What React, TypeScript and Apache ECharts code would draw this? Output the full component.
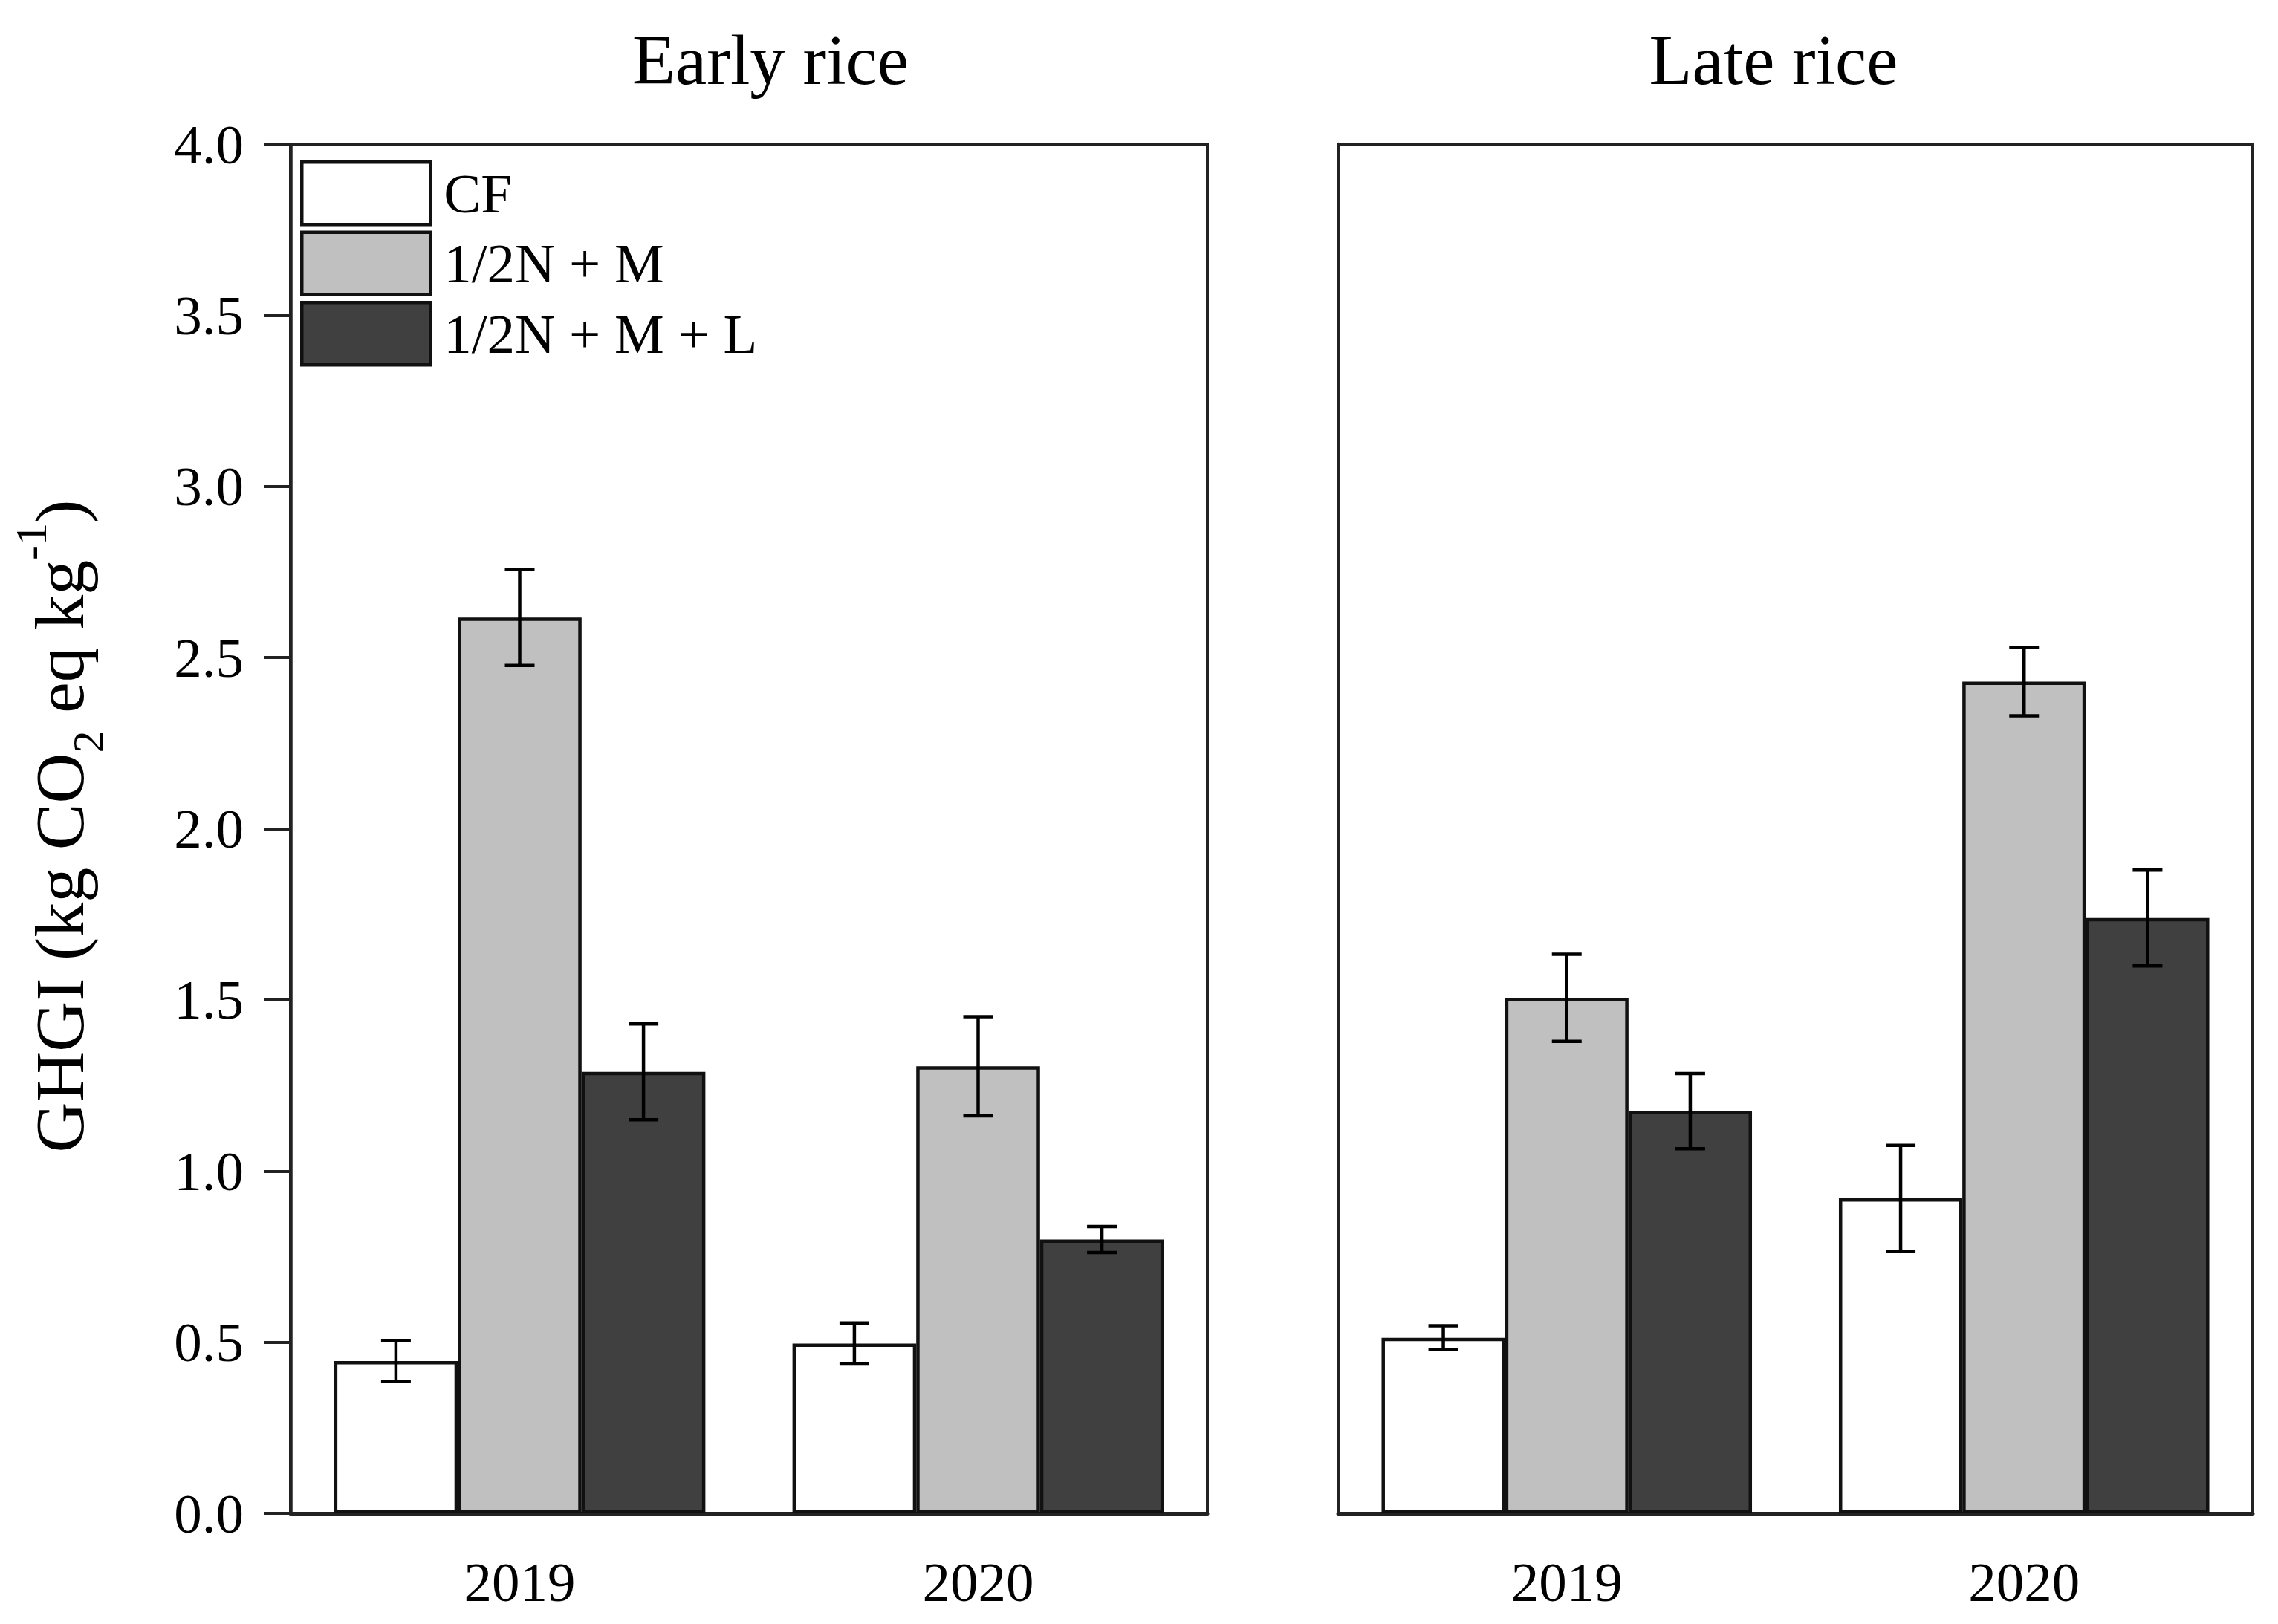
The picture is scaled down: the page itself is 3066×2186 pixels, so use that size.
import React, { useEffect, useRef } from "react";
import * as echarts from "echarts";

const categories = ["2019", "2020"];
const seriesNames = ["CF", "1/2N + M", "1/2N + M + L"];
const seriesColors = ["#ffffff", "#c0c0c0", "#404040"];

const earlyCF = [0.445, 0.496];
const earlyCFErr = [0.06, 0.06];
const earlyNM = [2.617, 1.306];
const earlyNMErr = [0.14, 0.145];
const earlyNML = [1.29, 0.8];
const earlyNMLErr = [0.14, 0.038];

const lateCF = [0.513, 0.92];
const lateCFErr = [0.035, 0.155];
const lateNM = [1.506, 2.43];
const lateNMErr = [0.127, 0.1];
const lateNML = [1.175, 1.739];
const lateNMLErr = [0.11, 0.14];

const yTicksMin = 0;
const yTicksMax = 4;
const yTicksInterval = 0.5;

const FONT = "Liberation Serif";
const BAR_GAP_CAT = 0.19;

export default function App() {
  const ref = useRef<HTMLDivElement>(null);

  useEffect(() => {
    document.body.style.margin = "0";
    const chart = echarts.init(ref.current!, null, { renderer: "svg" });

    const panels = [
      { vals: [earlyCF, earlyNM, earlyNML], errs: [earlyCFErr, earlyNMErr, earlyNMLErr] },
      { vals: [lateCF, lateNM, lateNML], errs: [lateCFErr, lateNMErr, lateNMLErr] },
    ];

    const series: any[] = [];
    panels.forEach((p, gi) => {
      p.vals.forEach((v, si) => {
        series.push({
          type: "bar",
          name: seriesNames[si],
          xAxisIndex: gi,
          yAxisIndex: gi,
          data: v,
          barGap: "0%",
          barCategoryGap: BAR_GAP_CAT * 100 + "%",
          itemStyle: { color: seriesColors[si], borderColor: "#111", borderWidth: 4.5 },
          z: 2,
        });
      });
      p.vals.forEach((v, si) => {
        series.push({
          type: "custom",
          name: "err" + gi + si,
          xAxisIndex: gi,
          yAxisIndex: gi,
          z: 5,
          encode: { x: 0, y: 1 },
          data: v.map((val, ci) => [ci, val, p.errs[si][ci]]),
          renderItem: (params: any, api: any) => {
            const c = api.value(0);
            const val = api.value(1);
            const e = api.value(2);
            const top = api.coord([c, val + e]);
            const bot = api.coord([c, val - e]);
            const bw = (api.size([1, 0])[0] * (1 - BAR_GAP_CAT)) / 3;
            const cx = top[0] + (si - 1) * bw;
            const hw = 20;
            const st = { stroke: "#000", lineWidth: 4.5 };
            return {
              type: "group",
              children: [
                { type: "line", shape: { x1: cx, y1: top[1], x2: cx, y2: bot[1] }, style: st },
                { type: "line", shape: { x1: cx - hw, y1: top[1], x2: cx + hw, y2: top[1] }, style: st },
                { type: "line", shape: { x1: cx - hw, y1: bot[1], x2: cx + hw, y2: bot[1] }, style: st },
              ],
            };
          },
        });
      });
    });

    const xAxisCommon = {
      type: "category",
      data: categories,
      axisLine: { lineStyle: { color: "#222", width: 5 } },
      axisTick: { alignWithLabel: true, length: 35, lineStyle: { color: "#222", width: 4 } },
      axisLabel: { fontFamily: FONT, fontSize: 75, color: "#000", margin: 55 },
    };
    const yAxisCommon = {
      type: "value",
      min: yTicksMin,
      max: yTicksMax,
      interval: yTicksInterval,
      splitLine: { show: false },
      axisLine: { show: true, lineStyle: { color: "#222", width: 4.5 } },
    };

    chart.setOption({
      animation: false,
      backgroundColor: "#ffffff",
      grid: [
        { left: 391, top: 194, width: 1234, height: 1843, show: true, borderColor: "#222", borderWidth: 4, backgroundColor: "transparent" },
        { left: 1801, top: 194, width: 1231, height: 1843, show: true, borderColor: "#222", borderWidth: 4, backgroundColor: "transparent" },
      ],
      xAxis: [
        { ...xAxisCommon, gridIndex: 0 },
        { ...xAxisCommon, gridIndex: 1 },
      ],
      yAxis: [
        {
          ...yAxisCommon,
          gridIndex: 0,
          axisTick: { show: true, length: 36, lineStyle: { color: "#222", width: 4 } },
          axisLabel: {
            fontFamily: FONT,
            fontSize: 75,
            color: "#000",
            margin: 63,
            formatter: (v: number) => v.toFixed(1),
          },
        },
        {
          ...yAxisCommon,
          gridIndex: 1,
          axisTick: { show: false },
          axisLabel: { show: false },
        },
      ],
      legend: {
        data: seriesNames,
        orient: "vertical",
        left: 399,
        top: 211,
        itemWidth: 173,
        itemHeight: 84,
        itemGap: 6,
        icon: "rect",
        selectedMode: false,
        itemStyle: { borderColor: "#111", borderWidth: 4.5 },
        textStyle: { fontFamily: FONT, fontSize: 75, color: "#000", padding: [0, 0, 0, 13] },
      },
      graphic: [
        {
          type: "text",
          x: 1037,
          y: 81,
          style: { text: "Early rice", fontFamily: FONT, fontSize: 95, fill: "#000", textAlign: "center", textVerticalAlign: "middle" },
        },
        {
          type: "text",
          x: 2387,
          y: 81,
          style: { text: "Late rice", fontFamily: FONT, fontSize: 95, fill: "#000", textAlign: "center", textVerticalAlign: "middle" },
        },
        {
          type: "text",
          x: 80,
          y: 1112,
          rotation: Math.PI / 2,
          style: {
            text: "{a|GHGI (kg CO}{s|2}{a| eq kg}{p|-1}{a|)}",
            textAlign: "center",
            textVerticalAlign: "middle",
            fill: "#000",
            rich: {
              a: { fontFamily: FONT, fontSize: 94, lineHeight: 137, fill: "#000" },
              s: { fontFamily: FONT, fontSize: 60, lineHeight: 60, verticalAlign: "bottom", fill: "#000" },
              p: { fontFamily: FONT, fontSize: 60, lineHeight: 89, verticalAlign: "top", fill: "#000" },
            },
          },
        },
      ],
      series,
    });

    return () => chart.dispose();
  }, []);

  return <div ref={ref} style={{ width: 3066, height: 2186 }} />;
}
